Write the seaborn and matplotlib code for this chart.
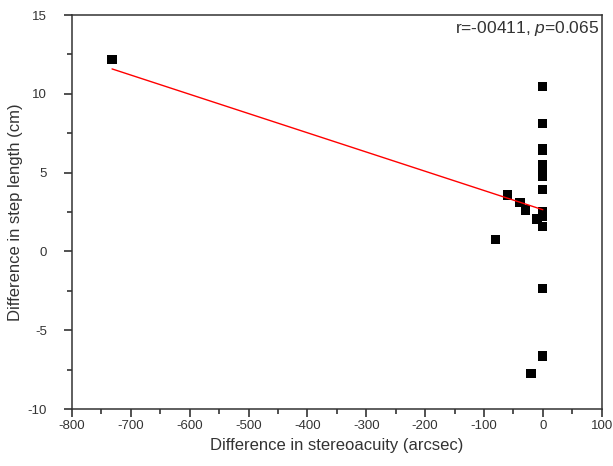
import numpy as np
import pandas as pd
import seaborn as sns
import matplotlib
matplotlib.use("Agg")
import matplotlib.pyplot as plt
from matplotlib.ticker import MultipleLocator

# values
stereo_diff = [-732, -60, -39, -30, -10, -80, -20,
               0, 0, 0, 0, 0, 0, 0, 0, 0, 0, 0, 0, 0]
step_diff = [12.19, 3.58, 3.12, 2.63, 2.05, 0.77, -7.74,
             10.45, 8.13, 6.55, 6.38, 5.48, 5.10, 4.74, 3.93, 2.55, 2.20, 1.60, -2.34, -6.64]
stat_text = "r=-00411, $p$=0.065"

df = pd.DataFrame({"stereo": stereo_diff, "step": step_diff})

sns.set_style("ticks")
plt.rcParams["font.family"] = ["Liberation Sans", "DejaVu Sans"]
plt.rcParams["axes.unicode_minus"] = False
plt.rcParams["mathtext.fontset"] = "custom"
plt.rcParams["mathtext.it"] = "Liberation Sans:italic"
plt.rcParams["mathtext.rm"] = "Liberation Sans"

fig = plt.figure(figsize=(6.13, 4.66), dpi=100)
ax = fig.add_axes([0.1175, 0.1223, 0.8641, 0.8455])

sns.regplot(data=df, x="stereo", y="step", ax=ax, ci=None,
            marker="s",
            scatter_kws={"s": 44, "color": "black", "edgecolor": "none", "alpha": 1},
            line_kws={"color": "red", "linewidth": 1})

ax.set_xlim(-800, 100)
ax.set_ylim(-10, 15)
ax.xaxis.set_major_locator(MultipleLocator(100))
ax.xaxis.set_minor_locator(MultipleLocator(50))
ax.yaxis.set_major_locator(MultipleLocator(5))
ax.yaxis.set_minor_locator(MultipleLocator(2.5))
ax.tick_params(which="major", direction="out", length=6, width=1.1, pad=2,
               labelsize=9.5, colors="#222222", labelcolor="#333333")
ax.tick_params(axis="y", which="major", pad=12)
ax.tick_params(which="minor", direction="out", length=3.5, width=1.1, colors="#222222")
ax.tick_params(top=False, right=False, which="both")
for s in ax.spines.values():
    s.set_visible(True)
    s.set_linewidth(1.1)
    s.set_color("#333333")

ax.set_xlabel("Difference in stereoacuity (arcsec)", fontsize=12, color="#333333", labelpad=4)
ax.set_ylabel("Difference in step length (cm)", fontsize=12, color="#333333", labelpad=3)

ax.text(0.995, 0.99, stat_text, transform=ax.transAxes, ha="right", va="top",
        fontsize=12.5, color="#333333")

fig.savefig("out.png", dpi=100)
